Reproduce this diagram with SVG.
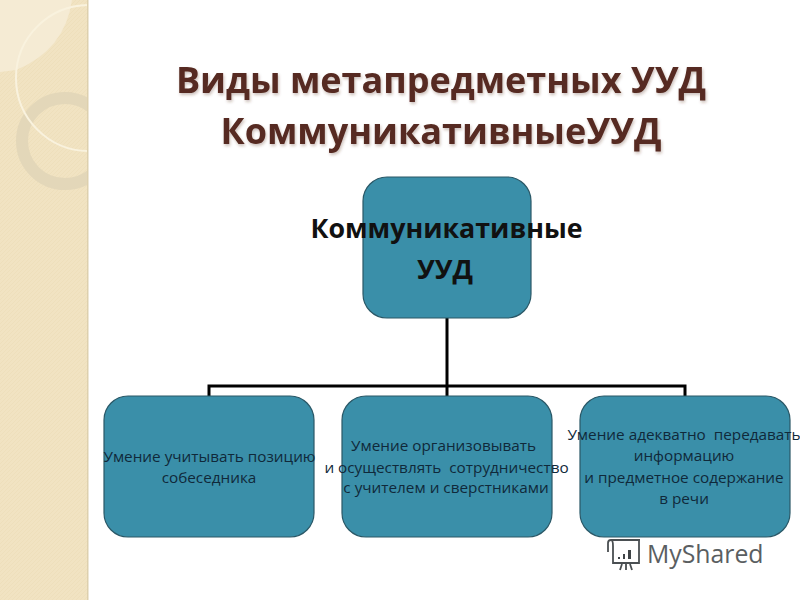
<svg xmlns="http://www.w3.org/2000/svg" width="800" height="600" viewBox="0 0 800 600">
<style>
.box{fill:#3a8fa9;stroke:#2a5867;stroke-width:1.2}
.t{font-family:"Open Sans","Noto Sans",sans-serif;text-anchor:middle}
.title{font-size:36px;font-weight:700;fill:#562a20}
.head{font-size:26.800px;font-weight:700;fill:#111}
.lbl{font-size:15.300px;fill:#10293a;white-space:pre}
.conn{fill:none;stroke:#000;stroke-width:3}
.wm{fill:none;stroke:#4a4f52;stroke-width:1.800}
</style>
<defs>
<clipPath id="band"><rect width="88" height="600"/></clipPath>
<pattern id="weave" width="4" height="4" patternUnits="userSpaceOnUse">
<rect width="4" height="4" fill="#f1e3c2"/>
<path d="M0 4L4 0" stroke="#eedfbb" stroke-width="1"/>
</pattern>
<filter id="sh" x="-5%" y="-20%" width="110%" height="140%"><feDropShadow dx="1" dy="2" stdDeviation="1.500" flood-color="#562a20" flood-opacity=".3"/></filter>
</defs>
<rect width="800" height="600" fill="#fff"/>
<g id="band-art" clip-path="url(#band)">
<rect width="88" height="600" fill="url(#weave)"/>
<path d="M0 0H72Q65 50 16 70L0 72Z" fill="#f5ebd4"/>
<circle cx="65" cy="141" r="43" fill="none" stroke="#e3d7b9" stroke-width="12"/>
<circle cx="89" cy="78" r="73" fill="none" stroke="#f9f2de" stroke-width="2"/>
</g>
<rect x="87" y="0" width="1.500" height="600" fill="#ddd0ae"/>
<g id="title" class="t title" filter="url(#sh)">
<text x="441" y="93">Виды метапредметных УУД</text>
<text x="441" y="144">КоммуникативныеУУД</text>
</g>
<g id="connectors">
<path class="conn" d="M447 318V396M209 396V386H685V396"/>
</g>
<g id="node-top">
<rect class="box" x="363" y="177" width="168" height="141" rx="24"/>
<text class="t head" x="446.500" y="238">Коммуникативные</text>
<text class="t head" x="445" y="279">УУД</text>
</g>
<g id="node-left">
<rect class="box" x="104" y="396" width="210" height="141" rx="24"/>
<text class="t lbl" x="209.500" y="462">Умение учитывать позицию</text>
<text class="t lbl" x="209" y="483">собеседника</text>
</g>
<g id="node-mid">
<rect class="box" x="342" y="396" width="210" height="141" rx="24"/>
<text class="t lbl" x="443.500" y="451">Умение организовывать</text>
<text class="t lbl" x="446.500" y="473">и осуществлять  сотрудничество</text>
<text class="t lbl" x="446" y="493">с учителем и сверстниками</text>
</g>
<g id="node-right">
<rect class="box" x="580" y="396" width="210" height="141" rx="24"/>
<text class="t lbl" x="684" y="440">Умение адекватно  передавать</text>
<text class="t lbl" x="684" y="461">информацию</text>
<text class="t lbl" x="684" y="483">и предметное содержание</text>
<text class="t lbl" x="684" y="504">в речи</text>
</g>
<g id="watermark">
<path class="wm" d="M611 540H640M613 546V563H639V541M608 552V543Q608 540 611 540Q613 540 613 546"/>
<path class="wm" d="M622 564l-2 6M626 564v6M630 564l2 6"/>
<path d="M618 557h2v2h-2zM623 554h2v5h-2zM628 550h3v9h-3z" fill="#3f4447"/>
<text x="647" y="563" font-family="'Open Sans',sans-serif" font-size="24.800" fill="#5a5e61">MyShared</text>
</g>
</svg>
